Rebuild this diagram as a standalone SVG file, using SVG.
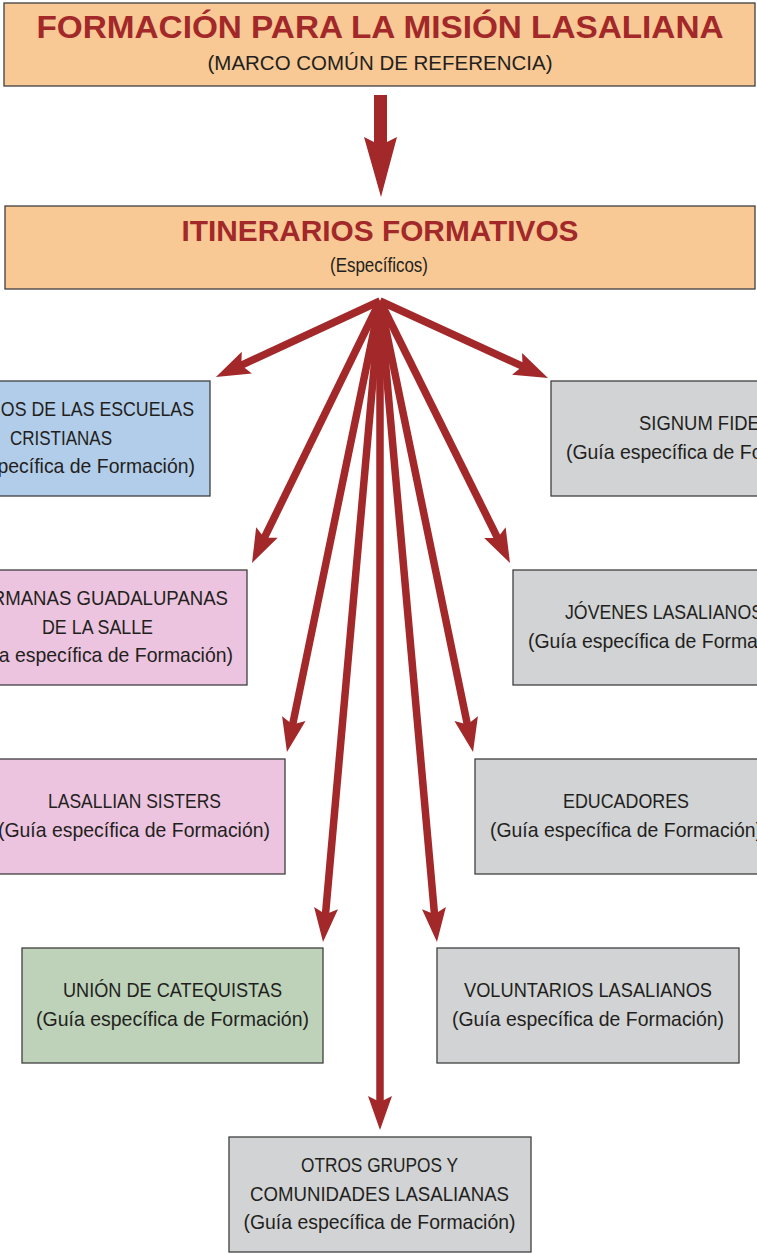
<svg xmlns="http://www.w3.org/2000/svg" width="757" height="1254" viewBox="0 0 757 1254">
<style>
.box{stroke:#3f3f3f;stroke-width:1.3}
.hdr{fill:#f8c994}
.blue{fill:#b2cdea}
.pink{fill:#ecc4df}
.gray{fill:#d1d3d4}
.green{fill:#bdd2b9}
.t{font-family:"Liberation Sans",Arial,sans-serif;font-size:21px;fill:#231f20;text-anchor:middle}
.ttl{font-family:"Liberation Sans",Arial,sans-serif;font-weight:bold;fill:#a2282a;text-anchor:middle}
.con{stroke:#a2282a;stroke-width:7.5;fill:none}
</style>
<defs>
<marker id="ah" markerUnits="userSpaceOnUse" orient="auto" refX="14" refY="0" markerWidth="40" markerHeight="30" viewBox="0 -15 40 30" overflow="visible">
<path d="M0,-12 L34,0 L0,12 L6,0 Z" fill="#a2282a"/>
</marker>
</defs>

<g id="formacion">
<rect class="box hdr" x="4" y="3" width="751" height="83"/>
<text class="ttl" x="380" y="38" font-size="32" textLength="687" lengthAdjust="spacingAndGlyphs">FORMACIÓN PARA LA MISIÓN LASALIANA</text>
<text class="t" x="380" y="70" textLength="345" lengthAdjust="spacingAndGlyphs">(MARCO COMÚN DE REFERENCIA)</text>
</g>

<g id="itinerarios">
<rect class="box hdr" x="5" y="206" width="750" height="83"/>
<text class="ttl" x="380" y="241" font-size="30" textLength="397" lengthAdjust="spacingAndGlyphs">ITINERARIOS FORMATIVOS</text>
<text class="t" x="379" y="272" font-size="18" textLength="98" lengthAdjust="spacingAndGlyphs">(Específicos)</text>
</g>

<g id="connectors">
<polygon points="374,95 387,95 387,142 397,137 381,197 364,137 374,142" fill="#a2282a"/>
<line class="con" x1="380" y1="301" x2="234.1" y2="368.6" marker-end="url(#ah)"/>
<line class="con" x1="380" y1="301" x2="529.8" y2="369.7" marker-end="url(#ah)"/>
<line class="con" x1="380" y1="301" x2="260.8" y2="545" marker-end="url(#ah)"/>
<line class="con" x1="380" y1="301" x2="501.1" y2="545.1" marker-end="url(#ah)"/>
<line class="con" x1="380" y1="301" x2="291" y2="732.4" marker-end="url(#ah)"/>
<line class="con" x1="380" y1="301" x2="469" y2="732.4" marker-end="url(#ah)"/>
<line class="con" x1="380" y1="301" x2="324.8" y2="922.1" marker-end="url(#ah)"/>
<line class="con" x1="380" y1="301" x2="435.2" y2="922.1" marker-end="url(#ah)"/>
<line class="con" x1="380" y1="301" x2="380" y2="1110" marker-end="url(#ah)"/>
</g>

<g id="hermanos">
<rect class="box blue" x="-92" y="381" width="302" height="115"/>
<text class="t" x="59" y="416" textLength="270" lengthAdjust="spacingAndGlyphs">HERMANOS DE LAS ESCUELAS</text>
<text class="t" x="61" y="445" textLength="102" lengthAdjust="spacingAndGlyphs">CRISTIANAS</text>
<text class="t" x="59" y="473" textLength="272" lengthAdjust="spacingAndGlyphs">(Guía específica de Formación)</text>
</g>

<g id="signum">
<rect class="box gray" x="551" y="381" width="302" height="115"/>
<text class="t" x="702" y="430" textLength="126" lengthAdjust="spacingAndGlyphs">SIGNUM FIDEI</text>
<text class="t" x="702" y="459" textLength="272" lengthAdjust="spacingAndGlyphs">(Guía específica de Formación)</text>
</g>

<g id="hermanas">
<rect class="box pink" x="-55" y="570" width="302" height="115"/>
<text class="t" x="97" y="605" textLength="262" lengthAdjust="spacingAndGlyphs">HERMANAS GUADALUPANAS</text>
<text class="t" x="97.5" y="634" textLength="111" lengthAdjust="spacingAndGlyphs">DE LA SALLE</text>
<text class="t" x="97" y="662" textLength="272" lengthAdjust="spacingAndGlyphs">(Guía específica de Formación)</text>
</g>

<g id="jovenes">
<rect class="box gray" x="513" y="570" width="302" height="115"/>
<text class="t" x="664" y="619" textLength="198" lengthAdjust="spacingAndGlyphs">JÓVENES LASALIANOS</text>
<text class="t" x="664" y="648" textLength="272" lengthAdjust="spacingAndGlyphs">(Guía específica de Formación)</text>
</g>

<g id="sisters">
<rect class="box pink" x="-17" y="759" width="302" height="115"/>
<text class="t" x="134.5" y="808" textLength="173" lengthAdjust="spacingAndGlyphs">LASALLIAN SISTERS</text>
<text class="t" x="134" y="837" textLength="272" lengthAdjust="spacingAndGlyphs">(Guía específica de Formación)</text>
</g>

<g id="educadores">
<rect class="box gray" x="475" y="759" width="302" height="115"/>
<text class="t" x="626" y="808" textLength="126" lengthAdjust="spacingAndGlyphs">EDUCADORES</text>
<text class="t" x="626" y="837" textLength="272" lengthAdjust="spacingAndGlyphs">(Guía específica de Formación)</text>
</g>

<g id="union">
<rect class="box green" x="22" y="948" width="301" height="115"/>
<text class="t" x="172.5" y="997" textLength="219" lengthAdjust="spacingAndGlyphs">UNIÓN DE CATEQUISTAS</text>
<text class="t" x="172.5" y="1026" textLength="273" lengthAdjust="spacingAndGlyphs">(Guía específica de Formación)</text>
</g>

<g id="voluntarios">
<rect class="box gray" x="437" y="948" width="302" height="115"/>
<text class="t" x="588" y="997" textLength="248" lengthAdjust="spacingAndGlyphs">VOLUNTARIOS LASALIANOS</text>
<text class="t" x="588" y="1026" textLength="272" lengthAdjust="spacingAndGlyphs">(Guía específica de Formación)</text>
</g>

<g id="otros">
<rect class="box gray" x="229" y="1137" width="302" height="115"/>
<text class="t" x="379.5" y="1172" textLength="157" lengthAdjust="spacingAndGlyphs">OTROS GRUPOS Y</text>
<text class="t" x="379.5" y="1201" textLength="259" lengthAdjust="spacingAndGlyphs">COMUNIDADES LASALIANAS</text>
<text class="t" x="379.5" y="1229" textLength="272" lengthAdjust="spacingAndGlyphs">(Guía específica de Formación)</text>
</g>
</svg>
